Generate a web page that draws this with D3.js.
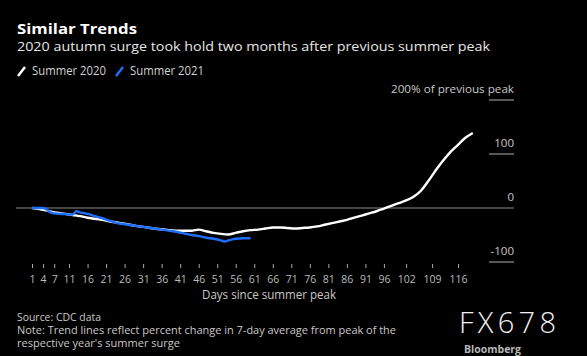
<!DOCTYPE html>
<html><head><meta charset="utf-8">
<script src="https://cdn.jsdelivr.net/npm/d3@7"></script>
<style>
html,body{margin:0;padding:0;background:#000;}
svg{display:block;}
text{font-family:"Open Sans","Noto Sans",sans-serif;}
</style></head>
<body>
<script>
// Data
const days2020 = [1,3,5,7,9,12,14,16,18,20,23,26,29,32,35,38,41,44,46,48,50,52,54,56,58,60,62,64,66,68,70,72,74,76,78,80,82,84,86,88,90,92,94,96,98,100,102,104,106,108,110,112,114,116,118,120];
const values2020 = [0,-2,-5,-8,-10,-13,-15,-18,-20,-22,-26,-29,-33,-36,-39,-41,-42,-42,-40,-43,-46,-48,-49,-46,-43,-41,-40,-38,-36,-36,-37,-38,-37,-36,-34,-31,-28,-25,-22,-18,-14,-10,-6,-1,4,9,14,21,32,50,70,88,104,117,130,139];
const days2021 = [1,3,4,5,6,7,9,11,12,13,14,16,18,20,22,24,26,28,30,32,34,36,38,40,42,44,46,48,50,52,53,54,56,58,60];
const values2021 = [0,0,0,-3,-8,-10,-11,-12,-12,-6,-8,-11,-15,-19,-24,-28,-30,-32,-34,-36,-38,-40,-42,-44,-47,-50,-52,-55,-57,-60,-62,-60,-57,-56,-56];
const xTicks = [1,4,7,11,16,21,26,31,36,41,46,51,56,61,66,71,76,81,86,91,96,102,109,116];
const yTicks = [200,100,0,-100];
const seriesNames = ["Summer 2020","Summer 2021"];
const seriesColors = ["#ffffff","#1f6fff"];

const W = 587, H = 356;
const LIB = "'Liberation Sans',Arial,sans-serif";
const svg = d3.select("body").append("svg").attr("width", W).attr("height", H);
svg.append("rect").attr("width", W).attr("height", H).attr("fill", "#000");

const x = d3.scaleLinear().domain([1,116]).range([32,458]);
const y = d3.scaleLinear().domain([-100,200]).range([262,100]);

// Titles
svg.append("text").attr("x",17).attr("y",33.5).attr("fill","#fff")
  .attr("font-family",LIB).attr("font-size",13.5).attr("font-weight","bold")
  .attr("textLength",120).attr("lengthAdjust","spacingAndGlyphs").text("Similar Trends");
svg.append("text").attr("x",17).attr("y",51).attr("fill","#e6e6e6")
  .attr("font-family",LIB).attr("font-size",13.5).attr("textLength",473).attr("lengthAdjust","spacingAndGlyphs")
  .text("2020 autumn surge took hold two months after previous summer peak");

// Legend
const legX = [17,115];
seriesNames.forEach((n,i)=>{
  svg.append("line").attr("x1",legX[i]+1).attr("y1",76).attr("x2",legX[i]+8).attr("y2",67)
    .attr("stroke",seriesColors[i]).attr("stroke-width",2.5);
  svg.append("text").attr("x",legX[i]+15).attr("y",75).attr("fill","#d0d0d0")
    .attr("font-size",12).attr("textLength",74).attr("lengthAdjust","spacingAndGlyphs").text(n);
});

// Y gridlines and labels
yTicks.forEach(t=>{
  const yy = y(t);
  if (t===0) {
    svg.append("line").attr("x1",16).attr("x2",514).attr("y1",yy).attr("y2",yy)
      .attr("stroke","#8a8a8a").attr("stroke-width",1.2);
  } else {
    svg.append("line").attr("x1",489).attr("x2",514).attr("y1",yy).attr("y2",yy)
      .attr("stroke","#b0b0b0").attr("stroke-width",1);
  }
  const lbl = svg.append("text").attr("x",514).attr("y",yy-7).attr("text-anchor","end")
    .attr("fill","#c8c8c8").attr("font-size",11.5)
    .text(t===200 ? "200% of previous peak" : String(t));
  if (t===200) lbl.attr("textLength",123).attr("lengthAdjust","spacingAndGlyphs");
});

// X axis
const xAxis = d3.axisBottom(x).tickValues(xTicks).tickSize(4).tickPadding(8).tickFormat(d3.format("d"));
const gx = svg.append("g").attr("transform","translate(0,264)").call(xAxis);
gx.select(".domain").remove();
gx.selectAll(".tick line").attr("stroke","#aaa");
gx.selectAll(".tick text").attr("fill","#bbb").attr("font-size",10.5)
  .attr("font-family","'Open Sans','Noto Sans',sans-serif");
svg.append("text").attr("x",269).attr("y",299).attr("text-anchor","middle")
  .attr("fill","#c8c8c8").attr("font-size",12).attr("textLength",134)
  .attr("lengthAdjust","spacingAndGlyphs").text("Days since summer peak");

// Lines
const line = d3.line().x(d=>x(d[0])).y(d=>y(d[1])).curve(d3.curveMonotoneX);
const s2020 = days2020.map((d,i)=>[d,values2020[i]]);
const s2021 = days2021.map((d,i)=>[d,values2021[i]]);
svg.append("path").datum(s2020).attr("d",line).attr("fill","none")
  .attr("stroke",seriesColors[0]).attr("stroke-width",2.4).attr("stroke-linejoin","round");
svg.append("path").datum(s2021).attr("d",line).attr("fill","none")
  .attr("stroke",seriesColors[1]).attr("stroke-width",2.4).attr("stroke-linejoin","round");

// Footer
const foot = ["Source: CDC data","Note: Trend lines reflect percent change in 7-day average from peak of the","respective year's summer surge"];
const footW = [84,379,163];
foot.forEach((t,i)=>{
  svg.append("text").attr("x",17).attr("y",321+i*13).attr("fill","#c8c8c8")
    .attr("font-family",LIB)
    .attr("font-size",10.5).attr("textLength",footW[i]).attr("lengthAdjust","spacingAndGlyphs").text(t);
});

// Watermark
svg.append("text").attr("x",459).attr("y",333).attr("fill","#f0f0f0")
  .attr("font-size",29).attr("font-weight",300)
  .attr("textLength",97).attr("lengthAdjust","spacing")
  .attr("font-family","'DejaVu Sans',sans-serif").text("FX678");
svg.append("text").attr("x",464).attr("y",353).attr("fill","#b8b8b8")
  .attr("font-family",LIB)
  .attr("font-size",11).attr("font-weight","bold")
  .attr("textLength",57).attr("lengthAdjust","spacingAndGlyphs").text("Bloomberg");
</script>
</body></html>
